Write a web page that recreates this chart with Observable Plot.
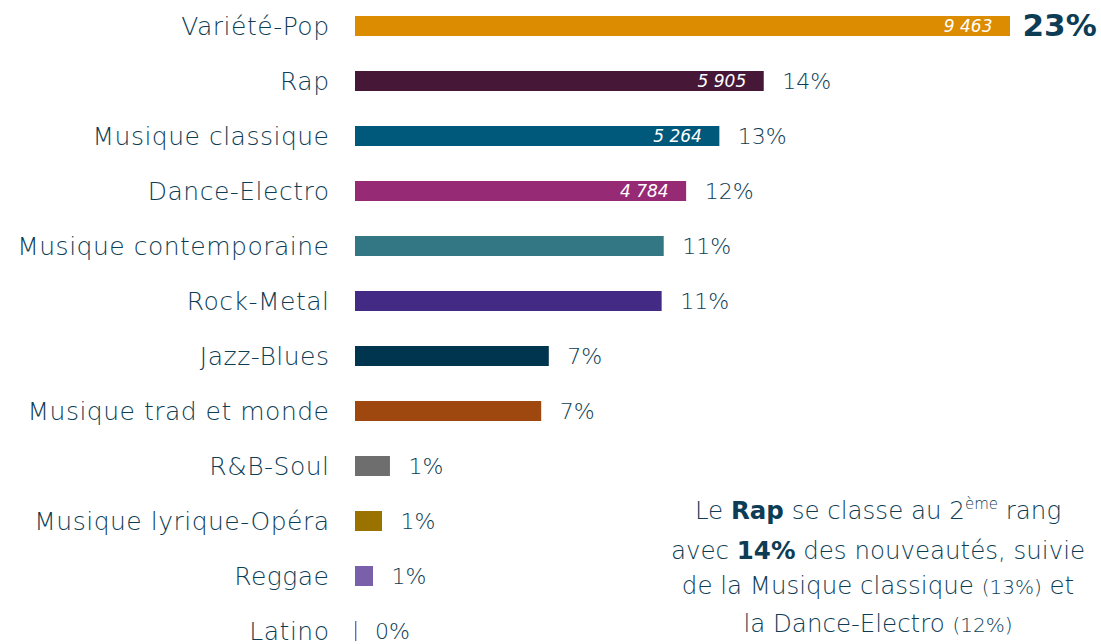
<!DOCTYPE html>
<html>
<head>
<meta charset="utf-8">
<script src="https://cdn.jsdelivr.net/npm/d3@7"></script>
<script src="https://cdn.jsdelivr.net/npm/@observablehq/plot@0.6"></script>
<style>
  html, body { margin: 0; padding: 0; background: #fff; overflow: hidden; width: 1101px; height: 644px; }
  #wrap { position: relative; width: 1101px; height: 644px; overflow: hidden; }
  #note { position: absolute; left: 548px; top: 493px; width: 660px; text-align: center; white-space: nowrap;
          font-family: "DejaVu Sans", sans-serif; font-size: 24.5px; line-height: 35.5px; color: #0d3d55; font-weight: 300; }
  #note b { font-weight: bold; }
  #note .s { font-size: 20px; }
  #note sup { font-size: 15px; vertical-align: 0; position: relative; top: -10px; }
  g[aria-label="y-axis tick label"] text { letter-spacing: 0.5px; }
</style>
</head>
<body>
<div id="wrap">
  <div id="chart"></div>
  <div id="note">Le <b>Rap</b> se classe au 2<sup>ème</sup> rang<br>avec <b>14%</b> des nouveautés, suivie<br>de la Musique classique <span class="s">(13%)</span> et<br>la Dance-Electro <span class="s">(12%)</span></div>
</div>
<script>
const genres = ["Variété-Pop", "Rap", "Musique classique", "Dance-Electro", "Musique contemporaine", "Rock-Metal",
  "Jazz-Blues", "Musique trad et monde", "R&B-Soul", "Musique lyrique-Opéra", "Reggae", "Latino"];
const counts = [9463, 5905, 5264, 4784, 4460, 4430, 2800, 2690, 505, 390, 260, 20];
const shares = ["23%", "14%", "13%", "12%", "11%", "11%", "7%", "7%", "1%", "1%", "1%", "0%"];
const showCount = [true, true, true, true, false, false, false, false, false, false, false, false];
const colors = ["#dc8c00", "#461736", "#00587a", "#962a74", "#327783", "#432a85",
  "#003550", "#9e480f", "#6e6e6e", "#9a7200", "#7a60aa", "#4a7cc0"];

const data = genres.map((g, i) => ({genre: g, count: counts[i], share: shares[i], show: showCount[i], big: i === 0}));
const fr = d3.formatLocale({decimal: ",", thousands: "\u2009", grouping: [3], currency: ["", " €"]});
const fmt = v => fr.format(",")(v).replace("\u2009", " ");

const textColor = "#0d3d55";
const font = "DejaVu Sans, sans-serif";

const chart = Plot.plot({
  width: 1101,
  height: 644,
  marginLeft: 355,
  marginRight: 91,
  marginTop: 16,
  marginBottom: 2,
  style: {fontFamily: font, background: "#fff"},
  x: {domain: [0, 9463], axis: null},
  y: {domain: genres, paddingInner: 0.636, paddingOuter: 0, label: null},
  color: {domain: genres, range: colors},
  marks: [
    Plot.barX(data, {y: "genre", x: "count", fill: "genre"}),
    Plot.axisY({tickSize: 0, tickPadding: 26, fontSize: 25, fill: textColor, label: null, fontWeight: 300}),
    Plot.text(data.filter(d => d.show), {y: "genre", x: "count", text: d => fmt(d.count), textAnchor: "end", dx: -18,
      fill: "#ffffff", fontSize: 17, fontStyle: "italic", fontWeight: 300}),
    Plot.text(data.filter(d => !d.big), {y: "genre", x: "count", text: "share", textAnchor: "start", dx: 18,
      fill: textColor, fontSize: 22, fontWeight: 300}),
    Plot.text(data.filter(d => d.big), {y: "genre", x: "count", text: "share", textAnchor: "start", dx: 12,
      fill: textColor, fontSize: 31, fontWeight: "bold"})
  ]
});
document.getElementById("chart").appendChild(chart);
</script>
</body>
</html>
